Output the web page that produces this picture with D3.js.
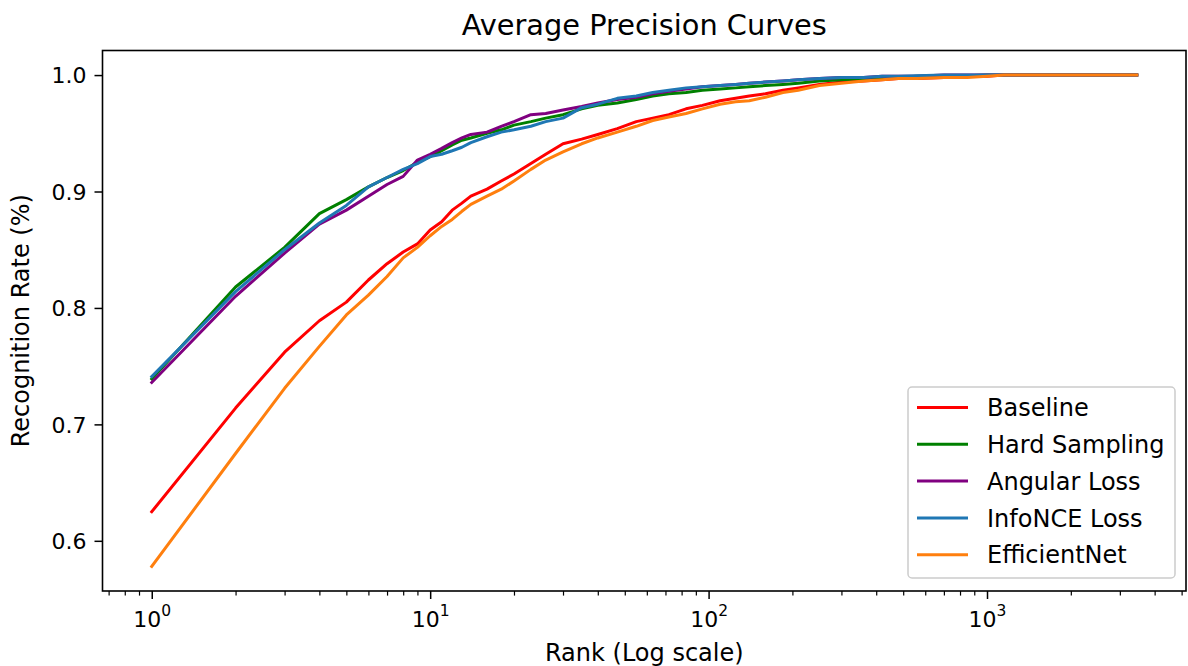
<!DOCTYPE html>
<html>
<head>
<meta charset="utf-8">
<script src="https://cdn.jsdelivr.net/npm/d3@7"></script>
<style>
  html, body { margin: 0; padding: 0; background: #fff; }
  svg { display: block; font-family: "DejaVu Sans", sans-serif; }
</style>
</head>
<body>
<svg id="chart" width="1188" height="666"></svg>
<script>
// ---------------- data ----------------
const ranks = [1,2,3,4,5,6,7,8,9,10,11,12,13,14,16,18,20,23,26,30,35,40,47,55,63,72,83,95,110,125,140,160,185,210,250,300,360,420,480,560,700,850,1000,1150,1500,2000,3450];

const baseline     = [0.625,0.714,0.762,0.789,0.805,0.824,0.838,0.848,0.855,0.867,0.874,0.884,0.890,0.896,0.902,0.909,0.915,0.924,0.932,0.941,0.945,0.949,0.954,0.960,0.963,0.966,0.971,0.974,0.978,0.980,0.982,0.984,0.987,0.989,0.992,0.994,0.995,0.996,0.997,0.997,0.998,0.999,0.999,1.0,1.0,1.0,1.0];
const hardSampling = [0.739,0.818,0.852,0.881,0.893,0.904,0.912,0.918,0.925,0.930,0.935,0.940,0.944,0.946,0.950,0.953,0.957,0.960,0.963,0.966,0.971,0.974,0.976,0.979,0.982,0.984,0.985,0.987,0.988,0.989,0.990,0.991,0.992,0.993,0.995,0.996,0.997,0.998,0.998,0.999,0.999,0.9995,1.0,1.0,1.0,1.0,1.0];
const angularLoss  = [0.736,0.810,0.847,0.872,0.884,0.896,0.906,0.913,0.927,0.932,0.937,0.942,0.946,0.949,0.951,0.956,0.960,0.966,0.967,0.970,0.973,0.976,0.979,0.981,0.984,0.986,0.988,0.990,0.991,0.992,0.993,0.994,0.995,0.996,0.997,0.998,0.998,0.999,0.999,0.999,1.0,1.0,1.0,1.0,1.0,1.0,1.0];
const infoNCELoss  = [0.741,0.814,0.850,0.873,0.888,0.904,0.912,0.919,0.924,0.930,0.932,0.935,0.938,0.942,0.947,0.951,0.953,0.956,0.960,0.963,0.972,0.975,0.980,0.982,0.985,0.987,0.989,0.990,0.991,0.992,0.993,0.994,0.995,0.996,0.997,0.998,0.998,0.999,0.999,0.9995,1.0,1.0,1.0,1.0,1.0,1.0,1.0];
const efficientNet = [0.578,0.675,0.731,0.767,0.794,0.811,0.827,0.843,0.852,0.862,0.870,0.876,0.883,0.889,0.896,0.902,0.909,0.919,0.927,0.934,0.941,0.946,0.951,0.956,0.961,0.964,0.967,0.971,0.975,0.977,0.978,0.981,0.985,0.987,0.991,0.993,0.995,0.996,0.997,0.997,0.998,0.998,0.999,1.0,1.0,1.0,1.0];

const seriesNames  = ["Baseline","Hard Sampling","Angular Loss","InfoNCE Loss","EfficientNet"];
const seriesValues = [baseline, hardSampling, angularLoss, infoNCELoss, efficientNet];
const seriesColors = ["#ff0000","#008000","#800080","#1f77b4","#ff7f0e"];

const yTicks = [0.6, 0.7, 0.8, 0.9, 1.0];
const xMajorTicks = [1, 10, 100, 1000];
const xMinorTicks = [0.7,0.8,0.9,2,3,4,5,6,7,8,9,20,30,40,50,60,70,80,90,200,300,400,500,600,700,800,900,2000,3000,4000,5000];

const titleText = "Average Precision Curves";
const xLabelText = "Rank (Log scale)";
const yLabelText = "Recognition Rate (%)";

// ---------------- layout ----------------
const svg = d3.select("#chart");
const L = 102.5, R = 1186, T = 50.5, B = 591;

// matplotlib-like 5% margins
const lx0 = Math.log10(d3.min(ranks)), lx1 = Math.log10(d3.max(ranks));
const lpad = (lx1 - lx0) * 0.05;
const x = d3.scaleLog().domain([Math.pow(10, lx0 - lpad), Math.pow(10, lx1 + lpad)]).range([L, R]);
const allV = seriesValues.flat();
const vmin = d3.min(allV), vmax = d3.max(allV), vpad = (vmax - vmin) * 0.05;
const y = d3.scaleLinear().domain([vmin - vpad, vmax + vpad]).range([B, T]);

// ---------------- lines ----------------
svg.append("clipPath").attr("id", "clip")
  .append("rect").attr("x", L).attr("y", T).attr("width", R - L).attr("height", B - T);

const line = d3.line().x(d => x(d[0])).y(d => y(d[1]));
const gLines = svg.append("g").attr("clip-path", "url(#clip)");
seriesValues.forEach((vals, i) => {
  gLines.append("path")
    .datum(ranks.map((r, k) => [r, vals[k]]))
    .attr("d", line)
    .attr("fill", "none")
    .attr("stroke", seriesColors[i])
    .attr("stroke-width", 3)
    .attr("stroke-linejoin", "round")
    .attr("stroke-linecap", "square");
});

// ---------------- axes ----------------
const tickFont = 22;
const yAxis = d3.axisLeft(y).tickValues(yTicks).tickFormat(d3.format(".1f")).tickSize(8).tickPadding(8);
const gy = svg.append("g").attr("transform", `translate(${L},0)`).call(yAxis);
gy.select(".domain").remove();
gy.selectAll("line").attr("stroke", "#000").attr("stroke-width", 1.5);
gy.selectAll("text").attr("font-size", tickFont).attr("font-family", "DejaVu Sans").attr("fill", "#000").attr("dy", "0.36em");

const xMinor = d3.axisBottom(x).tickValues(xMinorTicks).tickFormat("").tickSize(4.6);
const gxm = svg.append("g").attr("transform", `translate(0,${B})`).call(xMinor);
gxm.select(".domain").remove();
gxm.selectAll("line").attr("stroke", "#000").attr("stroke-width", 1.2);

const xMajor = d3.axisBottom(x).tickValues(xMajorTicks).tickFormat("").tickSize(8);
const gx = svg.append("g").attr("transform", `translate(0,${B})`).call(xMajor);
gx.select(".domain").remove();
gx.selectAll("line").attr("stroke", "#000").attr("stroke-width", 1.5);
gx.selectAll(".tick").each(function(d) {
  const t = d3.select(this).append("text")
    .attr("y", 36).attr("text-anchor", "middle")
    .attr("font-size", tickFont).attr("font-family", "DejaVu Sans").attr("fill", "#000");
  t.append("tspan").text("10");
  t.append("tspan").attr("dy", -11).attr("font-size", 15.5).text(Math.round(Math.log10(d)));
});

// frame
svg.append("rect").attr("x", L).attr("y", T).attr("width", R - L).attr("height", B - T)
  .attr("fill", "none").attr("stroke", "#000").attr("stroke-width", 1.6);

// ---------------- labels ----------------
svg.append("text").attr("x", (L + R) / 2).attr("y", 35).attr("text-anchor", "middle")
  .attr("font-size", 28.8).attr("fill", "#000").text(titleText);
svg.append("text").attr("x", (L + R) / 2).attr("y", 661).attr("text-anchor", "middle")
  .attr("font-size", 24).attr("fill", "#000").text(xLabelText);
svg.append("text").attr("transform", `translate(29,${(T + B) / 2}) rotate(-90)`).attr("text-anchor", "middle")
  .attr("font-size", 24).attr("fill", "#000").text(yLabelText);

// ---------------- legend ----------------
const lg = svg.append("g");
lg.append("rect").attr("x", 908).attr("y", 387).attr("width", 267).attr("height", 191)
  .attr("rx", 4).attr("fill", "#fff").attr("fill-opacity", 0.8).attr("stroke", "#cccccc").attr("stroke-width", 1.5);
seriesNames.forEach((name, i) => {
  const cy = 407.5 + i * 36.8;
  lg.append("line").attr("x1", 917).attr("x2", 968).attr("y1", cy).attr("y2", cy)
    .attr("stroke", seriesColors[i]).attr("stroke-width", 3);
  lg.append("text").attr("x", 987).attr("y", cy).attr("dy", "0.36em")
    .attr("font-size", 24).attr("fill", "#000").text(name);
});
</script>
</body>
</html>
